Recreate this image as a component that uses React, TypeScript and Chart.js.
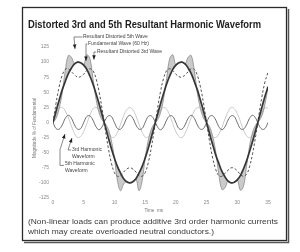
import React, { useEffect, useRef } from "react";
import { Chart, registerables } from "chart.js";

Chart.register(...registerables);

// ---- data (time in ms, magnitude in % of fundamental) ----
const timeMs = [
  0, 0.5, 1, 1.5, 2, 2.5, 3, 3.5, 4, 4.5, 5, 5.5, 6, 6.5, 7, 7.5, 8, 8.5, 9, 9.5,
  10, 10.5, 11, 11.5, 12, 12.5, 13, 13.5, 14, 14.5, 15, 15.5, 16, 16.5, 17, 17.5,
  18, 18.5, 19, 19.5, 20, 20.5, 21, 21.5, 22, 22.5, 23, 23.5, 24, 24.5, 25, 25.5,
  26, 26.5, 27, 27.5, 28, 28.5, 29, 29.5, 30, 30.5, 31, 31.5, 32, 32.5, 33, 33.5,
  34, 34.5, 35,
];

const fundamental = [
  0, 19, 37, 54, 68, 81, 90, 97, 100, 99, 95,
  88, 77, 64, 48, 31, 13, -6, -25, -43, -59,
  -73, -84, -93, -98, -100, -98, -93, -84, -73, -59,
  -43, -25, -6, 13, 31, 48, 64, 77, 88, 95,
  99, 100, 97, 90, 81, 68, 54, 37, 19, 0,
  -19, -37, -54, -68, -81, -90, -97, -100, -99, -95,
  -88, -77, -64, -48, -31, -13, 6, 25, 43, 59,
];

const resultant3rd = [
  0, 32, 59, 78, 88, 89, 84, 79, 75, 76, 80,
  86, 89, 86, 73, 51, 22, -11, -42, -67, -83,
  -89, -88, -82, -77, -75, -77, -82, -88, -89, -83,
  -67, -42, -11, 22, 51, 73, 86, 89, 86, 80,
  76, 75, 79, 84, 89, 88, 78, 59, 32, 0,
  -32, -59, -78, -88, -89, -84, -79, -75, -76, -80,
  -86, -89, -86, -73, -51, -22, 11, 42, 67, 83,
];

const resultant5th = [
  0, 7, 23, 49, 86, 111, 108, 97, 100, 99, 95,
  112, 106, 73, 39, 16, 4, -2, -11, -30, -59,
  -97, -113, -102, -98, -100, -98, -93, -113, -97, -59,
  -30, -11, -2, 4, 16, 39, 73, 106, 112, 95,
  99, 100, 97, 108, 111, 86, 49, 23, 7, 0,
  -7, -23, -49, -86, -111, -108, -97, -100, -99, -95,
  -112, -106, -73, -39, -16, -4, 2, 11, 30, 59,
];

const harmonic3rd = [
  0, 13, 23, 25, 19, 8, -6, -18, -25, -23, -15,
  -2, 12, 22, 25, 20, 9, -5, -17, -24, -24,
  -16, -3, 11, 21, 25, 21, 11, -3, -16, -24,
  -24, -17, -5, 9, 20, 25, 22, 12, -2, -15,
  -23, -25, -18, -6, 8, 19, 25, 23, 13, 0,
  -13, -23, -25, -19, -8, 6, 18, 25, 23, 15,
  2, -12, -22, -25, -20, -9, 5, 17, 24, 24,
];

const harmonic5th = [
  0, -10, -11, -4, 7, 12, 7, -4, -11, -10, 0,
  10, 11, 4, -7, -12, -7, 4, 11, 10, 0,
  -10, -11, -4, 7, 12, 7, -4, -11, -10, 0,
  10, 11, 4, -7, -12, -7, 4, 11, 10, 0,
  -10, -11, -4, 7, 12, 7, -4, -11, -10, 0,
  10, 11, 4, -7, -12, -7, 4, 11, 10, 0,
  -10, -11, -4, 7, 12, 7, -4, -11, -10, 0,
];

const xTickStep = 5;
const yTickStep = 25;

const titleText = "Distorted 3rd and 5th Resultant Harmonic Waveform";
const captionLines = [
  "(Non-linear loads can produce additive 3rd order harmonic currents",
  "which may create overloaded neutral conductors.)",
];
const yAxisTitle = "Magnitude % of Fundamental";
const xAxisTitle = "Time  ms";

// callouts: text lines, text anchor (ms, %), leader path (ms, %) ending at arrow tip
const callouts = [
  { lines: ["Resultant Distorted 5th Wave"], at: [4.88, 141.6], path: [[4.8, 141.6], [3.42, 141.6], [3.58, 121.7]] },
  { lines: ["Fundamental Wave (60 Hz)"], at: [5.7, 130], path: [[5.6, 130], [5.37, 130], [5.37, 102]] },
  { lines: ["Resultant Distorted 3rd Wave"], at: [7.16, 116.7], path: [[7.05, 116.7], [6.67, 116.7], [6.67, 104]] },
  { lines: ["3rd Harmonic", "Waveform"], at: [3.09, -45.5], path: [[2.95, -45.5], [2.44, -45.5], [3.09, -25.7]] },
  { lines: ["5th Harmonic", "Waveform"], at: [1.95, -68.7], path: [[1.8, -71], [1.14, -71], [1.14, -45], [1.95, -19]] },
];

const FONT = "'Liberation Sans', Arial, Helvetica, sans-serif";

function fitText(ctx: CanvasRenderingContext2D, text: string, x: number, y: number, width: number) {
  const w = ctx.measureText(text).width;
  const s = width / w;
  ctx.save();
  ctx.translate(x, y);
  ctx.scale(s, 1);
  ctx.fillText(text, 0, 0);
  ctx.restore();
  return s;
}

const figurePlugin = {
  id: "figureText",
  afterDraw(chart: any) {
    const ctx: CanvasRenderingContext2D = chart.ctx;
    const xs = chart.scales.x;
    const ys = chart.scales.y;
    const px = (t: number) => xs.getPixelForValue(t);
    const py = (v: number) => ys.getPixelForValue(v);
    const area = chart.chartArea;
    ctx.save();

    // frame with shadow
    ctx.strokeStyle = "#2a2a2a";
    ctx.lineWidth = 1.3;
    ctx.strokeRect(22.5, 7.5, 264, 233);
    ctx.strokeStyle = "#555";
    ctx.lineWidth = 1.5;
    ctx.beginPath();
    ctx.moveTo(288.5, 9);
    ctx.lineTo(288.5, 242.5);
    ctx.lineTo(24, 242.5);
    ctx.stroke();

    // title
    ctx.fillStyle = "#1e1e1e";
    ctx.textBaseline = "middle";
    ctx.textAlign = "left";
    ctx.font = `bold 11px ${FONT}`;
    fitText(ctx, titleText, 28, 25, 233);

    // caption
    ctx.fillStyle = "#3a3a3a";
    ctx.font = `8px ${FONT}`;
    const w1 = ctx.measureText(captionLines[0]).width;
    const sc = 250 / w1;
    captionLines.forEach((line, i) => {
      ctx.save();
      ctx.translate(28, 222 + i * 10);
      ctx.scale(sc, 1);
      ctx.fillText(line, 0, 0);
      ctx.restore();
    });

    // axis titles
    ctx.fillStyle = "#777";
    ctx.font = `4.6px ${FONT}`;
    ctx.save();
    ctx.translate(area.left - 18, py(-9));
    ctx.rotate(-Math.PI / 2);
    ctx.textAlign = "center";
    ctx.fillText(yAxisTitle, 0, 0);
    ctx.restore();
    ctx.textAlign = "center";
    ctx.fillText(xAxisTitle, px(16.4), area.bottom + 13);

    // callouts
    ctx.textAlign = "left";
    ctx.font = `5px ${FONT}`;
    ctx.fillStyle = "#444";
    ctx.strokeStyle = "#555";
    ctx.lineWidth = 0.7;
    callouts.forEach((c) => {
      c.lines.forEach((ln, i) => ctx.fillText(ln, px(c.at[0]), py(c.at[1]) + i * 7));
      const pts = c.path.map((p) => [px(p[0]), py(p[1])]);
      ctx.beginPath();
      ctx.moveTo(pts[0][0], pts[0][1]);
      for (let i = 1; i < pts.length; i++) ctx.lineTo(pts[i][0], pts[i][1]);
      ctx.stroke();
      const a = pts[pts.length - 2];
      const b = pts[pts.length - 1];
      const ang = Math.atan2(b[1] - a[1], b[0] - a[0]);
      const len = 4.5;
      const hw = 1.8;
      const bx = b[0] - len * Math.cos(ang);
      const by = b[1] - len * Math.sin(ang);
      ctx.fillStyle = "#222";
      ctx.beginPath();
      ctx.moveTo(b[0], b[1]);
      ctx.lineTo(bx - hw * Math.sin(ang), by + hw * Math.cos(ang));
      ctx.lineTo(bx + hw * Math.sin(ang), by - hw * Math.cos(ang));
      ctx.closePath();
      ctx.fill();
      ctx.fillStyle = "#444";
    });

    ctx.restore();
  },
};

const toPoints = (arr: number[]) => arr.map((v, i) => ({ x: timeMs[i], y: v }));

export default function App() {
  const ref = useRef<HTMLCanvasElement | null>(null);
  useEffect(() => {
    if (!ref.current) return;
    const tickFont = { size: 5, family: FONT };
    const chart = new Chart(ref.current, {
      type: "line",
      data: {
        datasets: [
          { label: "Fundamental Wave (60 Hz)", data: toPoints(fundamental), borderColor: "#363636", borderWidth: 1.7, order: 1, fill: false },
          { label: "Resultant Distorted 3rd Wave", data: toPoints(resultant3rd), borderColor: "#505050", borderWidth: 1, borderDash: [2.5, 2], order: 2, fill: false },
          { label: "5th Harmonic Waveform", data: toPoints(harmonic5th), borderColor: "#6a6a6a", borderWidth: 1, order: 3, fill: false },
          { label: "Resultant Distorted 5th Wave", data: toPoints(resultant5th), borderColor: "#8c8c8c", borderWidth: 0.8, backgroundColor: "rgba(150,150,150,0.5)", fill: 0, order: 4 },
          { label: "3rd Harmonic Waveform", data: toPoints(harmonic3rd), borderColor: "#c8c8c8", borderWidth: 1, order: 5, fill: false },
        ],
      } as any,
      options: {
        animation: false,
        responsive: false,
        devicePixelRatio: 1,
        layout: { padding: { left: 30, right: 32, top: 47, bottom: 42 } },
        elements: { point: { radius: 0 }, line: { tension: 0.4 } },
        plugins: { legend: { display: false }, tooltip: { enabled: false }, title: { display: false } },
        scales: {
          x: {
            type: "linear",
            min: 0,
            max: 35,
            ticks: { stepSize: xTickStep, font: tickFont, color: "#8a8a8a", padding: 2, maxRotation: 0, autoSkip: false },
            grid: { display: false, drawTicks: false },
            border: { display: false },
            afterFit: (s: any) => { s.height = 12; },
          },
          y: {
            type: "linear",
            min: -125,
            max: 125,
            ticks: { stepSize: yTickStep, font: tickFont, color: "#8a8a8a", padding: 4 },
            grid: { display: false, drawTicks: false },
            border: { display: false },
            afterFit: (s: any) => { s.width = 23; },
          },
        },
      } as any,
      plugins: [figurePlugin],
    });
    return () => chart.destroy();
  }, []);

  return (
    <div style={{ position: "fixed", left: 0, top: 0, width: 300, height: 252, background: "#fff" }}>
      <canvas ref={ref} width={300} height={252} style={{ display: "block" }} />
    </div>
  );
}
